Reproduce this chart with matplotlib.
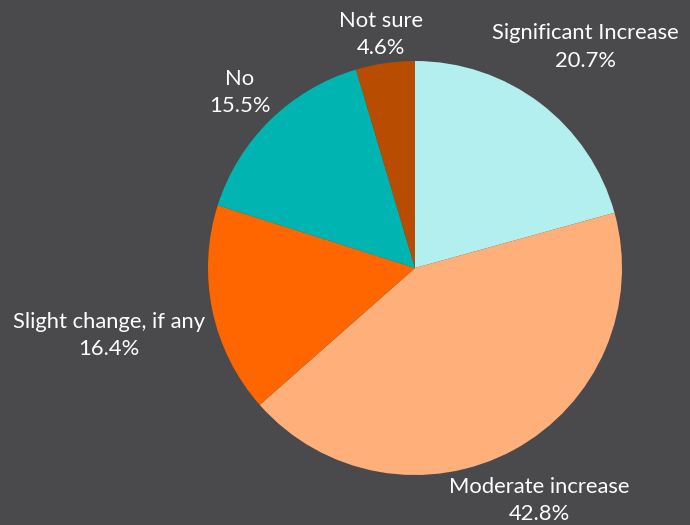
import numpy as np
import matplotlib.pyplot as plt

labels = ['Significant Increase', 'Moderate increase', 'Slight change, if any', 'No', 'Not sure']
values = [20.7, 42.8, 16.4, 15.5, 4.6]
colors = ['#b3efef', '#ffb07a', '#ff6600', '#00b5b1', '#b84c00']
# how far out each label sits (in pie radii)
label_dist = [1.36, 1.262, 1.51, 1.21, 1.155]

bg = '#4a4a4c'
plt.rcParams['font.family'] = ['Lato', 'DejaVu Sans']

fig = plt.figure(figsize=(6.9, 5.25), dpi=100, facecolor=bg)
ax = fig.add_axes([0, 0, 1, 1])
ax.set_facecolor(bg)

wedges, _ = ax.pie(values, colors=colors, startangle=90, counterclock=False,
                   radius=1, wedgeprops=dict(linewidth=0))

for w, lab, v, d in zip(wedges, labels, values, label_dist):
    ang = np.deg2rad((w.theta1 + w.theta2) / 2)
    ax.text(d * np.cos(ang), d * np.sin(ang) - 0.015, f'{lab}\n{v}%', color='white',
            fontsize=15.8, ha='center', va='center', linespacing=1.45)

ax.set_aspect('auto')
ax.set_xlim(-415 / 207, 275 / 207)
ax.set_ylim(-257 / 207, 268 / 207)
ax.axis('off')

plt.savefig('out.png', facecolor=bg)
